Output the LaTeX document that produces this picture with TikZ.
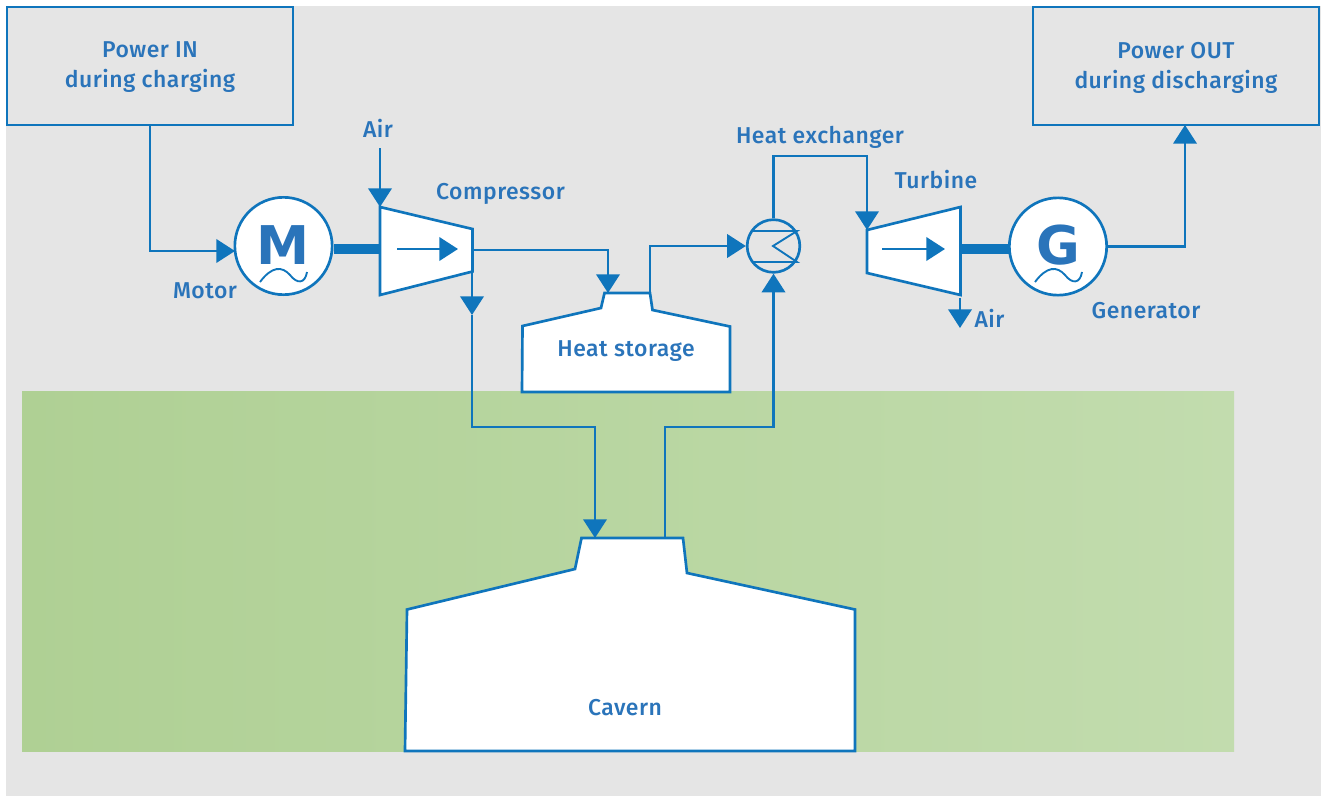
\documentclass[tikz,border=0pt]{standalone}
\usepackage{fontspec}
\setmainfont{Fira Sans}[BoldFont={Fira Sans Medium},BoldFeatures={LetterSpace=2.2}]
\newfontfamily\bigfont{DejaVu Sans Bold}
\usetikzlibrary{arrows.meta}
\definecolor{ln}{HTML}{0F75BC}
\definecolor{tx}{HTML}{2A74BA}
\definecolor{bg}{HTML}{E5E5E5}
\tikzset{
 x=0.75pt,y=-0.75pt,
 wire/.style={draw=ln,line width=2pt,line join=miter},
 flow/.style={wire,-{Triangle[length=14pt,width=17.5pt]}},
 shape fill/.style={wire,fill=white},
 lbl/.style={text=tx,font=\bfseries\fontsize{17.2}{22.5}\selectfont,align=center,inner sep=0pt,anchor=base},
 blbl/.style={text=tx,font=\bfseries\fontsize{17.2}{22.5}\selectfont,align=center,inner sep=0pt},
 boxn/.style={draw=ln,line width=2pt,fill=bg,minimum width=214.5pt,minimum height=88.5pt,inner sep=0pt},
 machine/.style={circle,draw=ln,line width=2pt,fill=white,minimum size=73pt,inner sep=0pt},
 hx/.style={circle,draw=ln,line width=2pt,fill=bg,minimum size=39.5pt,inner sep=0pt},
 shaft/.style={draw=ln,line width=7pt},
 letter/.style={text=tx,font=\bigfont\fontsize{40}{40}\selectfont,inner sep=0pt,anchor=base},
 thin wire/.style={ln,line width=1.4pt},
}
\begin{document}
\begin{tikzpicture}
\useasboundingbox (0,0) rectangle (1322,796);
\fill[white] (0,0) rectangle (1322,796);
\fill[bg] (6,6) rectangle (1320.5,795.5);
\shade[left color={rgb,255:red,175;green,208;blue,148},right color={rgb,255:red,194;green,220;blue,174}] (22,391) rectangle (1234,751);
% boxes
\node[boxn] (pin) at (150,66) {};
\node[boxn] (pout) at (1176,66) {};
\node[blbl] (pinl) at (150,67.5) {Power IN\\during charging};
\node[blbl] (poutl) at (1176,67.5) {Power OUT\\during discharging};
\coordinate (poutin) at (1185,125);
% shapes
\path[shape fill] (380,207) -- (472.5,229) -- (472.5,271.5) -- (380,295) -- cycle;
\coordinate (cin) at (380,207);
\coordinate (cout) at (472,250);
\coordinate (cdown) at (472,271.5);
\path[shape fill] (867,230) -- (960.5,207) -- (960.5,295) -- (867,273) -- cycle;
\coordinate (tin) at (867,230);
\coordinate (ts) at (960.5,249);
\path[shape fill] (522.5,326) -- (601,308) -- (604.5,293) -- (650,293) -- (652.5,310) -- (730,326.5) -- (730,392) -- (522,392) -- cycle;
\coordinate (hsin) at (608,293);
\coordinate (hsout) at (650,293);
\path[shape fill] (407,609.5) -- (575,569) -- (581.5,538) -- (683,538) -- (687,573) -- (855,609.5) -- (855,751) -- (405,751) -- cycle;
\coordinate (cvin) at (595,538);
\coordinate (cvout) at (665,538);
\node[lbl] (hs) at (626,356) {Heat storage};
\node[lbl] (cv) at (625,715) {Cavern};
% machines
\node[machine] (mot) at (283.5,246) {};
\node[machine] (gen) at (1058,246.5) {};
\node[hx] (ex) at (773.5,246) {};
\node[letter] (ml) at (283.5,264) {M};
\node[letter] (gl) at (1058,264) {G};
\draw[thin wire] (260,282) .. controls (272,266) and (282,266) .. (290,275) .. controls (297,284) and (305,284) .. (307,272);
\draw[thin wire] (1035,282) .. controls (1047,266) and (1057,266) .. (1065,275) .. controls (1072,284) and (1080,284) .. (1082,272);
% exchanger
\draw[thin wire] (753,231) -- (797,231) -- (773,246) -- (797,262) -- (753,262);
% shafts
\draw[shaft] (mot.east) ++(0,3) -- (380,249);
\draw[shaft] (ts) -- (1010,249);
% inner arrows
\coordinate (ca) at (397,249); \coordinate (cb) at (458,249);
\coordinate (ta) at (882,249); \coordinate (tb) at (945,249);
\draw[flow] (ca) -- (cb);
\draw[flow] (ta) -- (tb);
% connectors
\coordinate (airi) at (380,148);
\coordinate (airo) at (960,298);
\coordinate (airt) at (960,328);
\draw[flow] (airi) -- (cin);
\draw[flow] (airo) -- (airt);
\draw[flow] (pin.south) |- (235,251);
\draw[flow] (cout) -| (hsin);
\draw[flow] (hsout) |- (ex.west);
\draw[flow] (ex.north) |- (867,156) -- (tin);
\draw[flow] (cvout) |- (773.5,427) -- (ex.south);
\draw[flow] (cdown) -- (472,315);
\draw[flow] (472,315) |- (595,427) -- (cvin);
\draw[flow] (gen.east) -| (poutin);
% labels
\node[lbl] (l1) at (378,137) {Air};
\node[lbl] (l2) at (500.5,199) {Compressor};
\node[lbl] (l3) at (205,298) {Motor};
\node[lbl] (l4) at (820,143) {Heat exchanger};
\node[lbl] (l5) at (936,188.5) {Turbine};
\node[lbl] (l6) at (989.5,327.5) {Air};
\node[lbl] (l7) at (1146,318.5) {Generator};
\end{tikzpicture}
\end{document}
